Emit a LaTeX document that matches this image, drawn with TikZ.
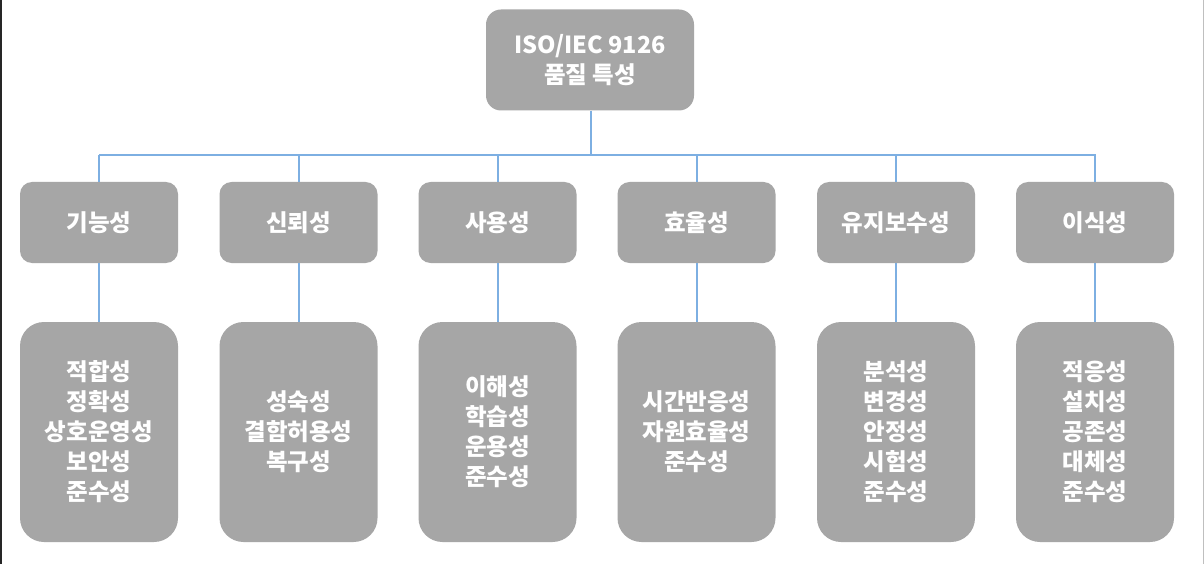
\documentclass[tikz,border=0pt]{standalone}
\usepackage{fontspec}
\newfontfamily\kr{Noto Sans CJK KR}
\definecolor{boxgray}{RGB}{166,166,166}
\definecolor{linkblue}{RGB}{125,175,226}
\begin{document}
\begin{tikzpicture}[x=1pt,y=-1pt,
  box/.style={draw=none,fill=boxgray,text=white,align=center,
    font=\kr\bfseries\fontsize{23.5}{30}\selectfont,inner sep=0pt},
  topbox/.style={box,minimum width=208pt,minimum height=101pt,rounded corners=15pt},
  catbox/.style={box,minimum width=158pt,minimum height=81pt,rounded corners=12pt},
  subbox/.style={box,minimum width=158pt,minimum height=220pt,rounded corners=24pt},
  link/.style={draw=linkblue,line width=2pt}]
\useasboundingbox (0,0) rectangle (1204,564);
\fill[white] (0,0) rectangle (1204,564);
\draw[black!85,line width=1.5pt] (0.75,0) -- (0.75,564);
\draw[black!25,line width=1pt] (1203.5,0) -- (1203.5,564);

\node[topbox] (top) at (590,60) {ISO/IEC 9126\\품질 특성};

\coordinate (busL) at (99,155);
\coordinate (busR) at (1096,155);

\node[catbox] (c1) at (99,222.5) {기능성};
\node[catbox] (c2) at (298.5,222.5) {신뢰성};
\node[catbox] (c3) at (497.5,222.5) {사용성};
\node[catbox] (c4) at (696.5,222.5) {효율성};
\node[catbox] (c5) at (896,222.5) {유지보수성};
\node[catbox] (c6) at (1095,222.5) {이식성};

\node[subbox] (d1) at (99,432) {적합성\\정확성\\상호운영성\\보안성\\준수성};
\node[subbox] (d2) at (298.5,432) {성숙성\\결함허용성\\복구성};
\node[subbox] (d3) at (497.5,432) {이해성\\학습성\\운용성\\준수성};
\node[subbox] (d4) at (696.5,432) {시간반응성\\자원효율성\\준수성};
\node[subbox] (d5) at (896,432) {분석성\\변경성\\안정성\\시험성\\준수성};
\node[subbox] (d6) at (1095,432) {적응성\\설치성\\공존성\\대체성\\준수성};

\draw[link] (busL) -- (busR);
\draw[link] ([xshift=1pt]top.south) -- ([xshift=1pt]top.south |- busL);
\foreach \i in {1,...,6}{
  \draw[link] (c\i.north |- busL) -- (c\i.north);
  \draw[link] (c\i.south) -- (d\i.north);
}
\end{tikzpicture}
\end{document}
